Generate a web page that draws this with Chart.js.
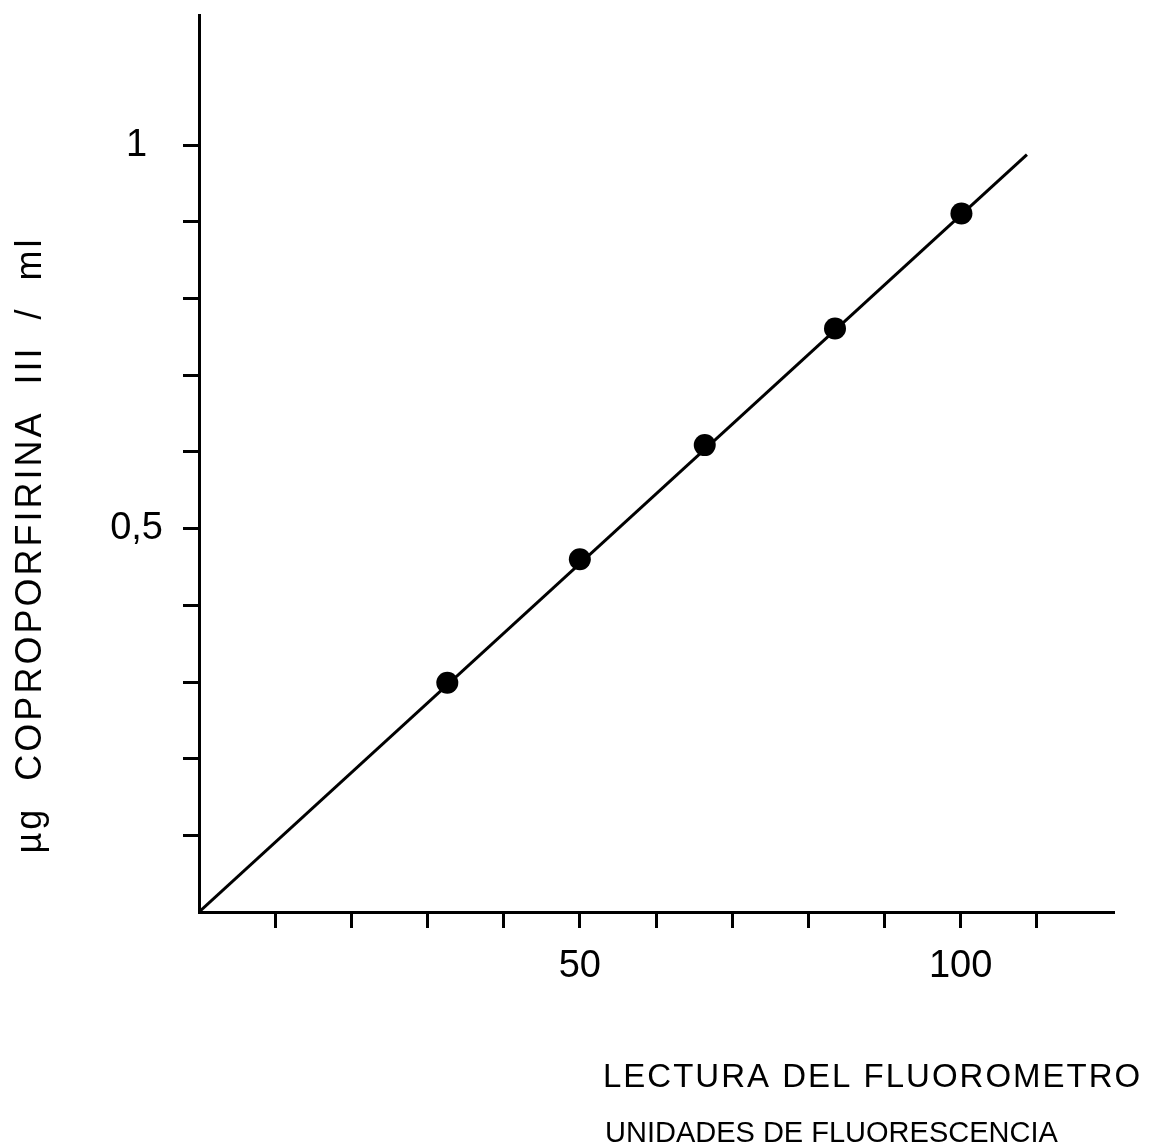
<!DOCTYPE html>
<html>
<head>
<meta charset="utf-8">
<script src="https://cdn.jsdelivr.net/npm/chart.js@4"></script>
<style>
  html, body { margin: 0; padding: 0; background: #fff; }
  #wrap { width: 1155px; height: 1147px; position: relative; }
</style>
</head>
<body>
<div id="wrap"><canvas id="curva"></canvas></div>
<script>
// lecturas del fluorometro (unidades) y ug de coproporfirina III / ml
const lectura = [32.6, 50, 66.4, 83.5, 100.1];
const copro = [0.299, 0.46, 0.609, 0.761, 0.911];

// recta de calibracion
const rectaX = [0, 108.7];
const rectaY = [0, 0.988];

const xTickLabels = { 50: '50', 100: '100' };
const yTickLabels = { 0.5: '0,5', 1: '1' };

const tituloY = 'µg  COPROPORFIRINA  III  /  ml';
const tituloX = ['LECTURA DEL FLUOROMETRO', 'UNIDADES DE FLUORESCENCIA'];

const fuente = 'Liberation Sans';

const textos = {
    id: 'textos',
    afterDraw(chart) {
        const ctx = chart.ctx;
        ctx.save();
        ctx.fillStyle = '#000';
        ctx.textAlign = 'left';
        ctx.textBaseline = 'alphabetic';
        ctx.letterSpacing = '2px';
        ctx.font = '33px "' + fuente + '"';
        ctx.fillText(tituloX[0], 603, 1087);
        ctx.letterSpacing = '0px';
        ctx.font = '29px "' + fuente + '"';
        ctx.fillText(tituloX[1], 605, 1142);

        ctx.translate(31, 545);
        ctx.rotate(-Math.PI / 2);
        ctx.textAlign = 'center';
        ctx.textBaseline = 'middle';
        ctx.letterSpacing = '3px';
        ctx.font = '36px "' + fuente + '"';
        ctx.fillText(tituloY, 0, 0);
        ctx.restore();
    }
};

const etiqueta = (mapa, v) => {
    for (const k in mapa) {
        if (Math.abs(v - Number(k)) < 1e-6) return mapa[k];
    }
    return '';
};

const ctx = document.getElementById('curva').getContext('2d');

const curva = new Chart(ctx, {
    type: 'scatter',
    data: {
        datasets: [{
            data: lectura.map((x, i) => ({ x: x, y: copro[i] })),
            pointRadius: 11,
            pointHoverRadius: 11,
            backgroundColor: '#000',
            borderColor: '#000',
            borderWidth: 0,
            showLine: false
        }, {
            data: rectaX.map((x, i) => ({ x: x, y: rectaY[i] })),
            showLine: true,
            pointRadius: 0,
            borderColor: '#000',
            borderWidth: 3
        }]
    },
    options: {
        responsive: true,
        maintainAspectRatio: false,
        animation: false,
        layout: {
            padding: { top: 15, right: 42, left: 0, bottom: 0 }
        },
        plugins: {
            legend: { display: false },
            tooltip: { enabled: false }
        },
        scales: {
            x: {
                type: 'linear',
                min: 0,
                max: 120,
                afterFit: (scale) => {
                    scale.height = 235;
                    scale.paddingLeft = 0;
                    scale.paddingRight = 0;
                },
                ticks: {
                    stepSize: 10,
                    autoSkip: false,
                    maxRotation: 0,
                    padding: 16,
                    color: '#000',
                    font: { family: fuente, size: 38 },
                    callback: (v) => etiqueta(xTickLabels, v)
                },
                grid: {
                    drawOnChartArea: false,
                    drawTicks: true,
                    tickLength: 16,
                    lineWidth: 3,
                    color: (c) => (c.tick && (c.tick.value === 0 || c.tick.value === 120)) ? 'rgba(0,0,0,0)' : '#000'
                },
                border: { color: '#000', width: 3 }
            },
            y: {
                type: 'linear',
                min: 0,
                max: 1.17,
                afterFit: (scale) => {
                    scale.width = 199;
                    scale.paddingTop = 0;
                    scale.paddingBottom = 0;
                },
                ticks: {
                    stepSize: 0.1,
                    includeBounds: false,
                    autoSkip: false,
                    padding: 20,
                    crossAlign: 'center',
                    color: '#000',
                    font: { family: fuente, size: 38 },
                    callback: (v) => etiqueta(yTickLabels, v)
                },
                grid: {
                    drawOnChartArea: false,
                    drawTicks: true,
                    tickLength: 16,
                    lineWidth: 3,
                    color: (c) => (c.tick && (c.tick.value < 0.05 || c.tick.value > 1.05)) ? 'rgba(0,0,0,0)' : '#000'
                },
                border: { color: '#000', width: 3 }
            }
        }
    },
    plugins: [textos]
});
</script>
</body>
</html>
